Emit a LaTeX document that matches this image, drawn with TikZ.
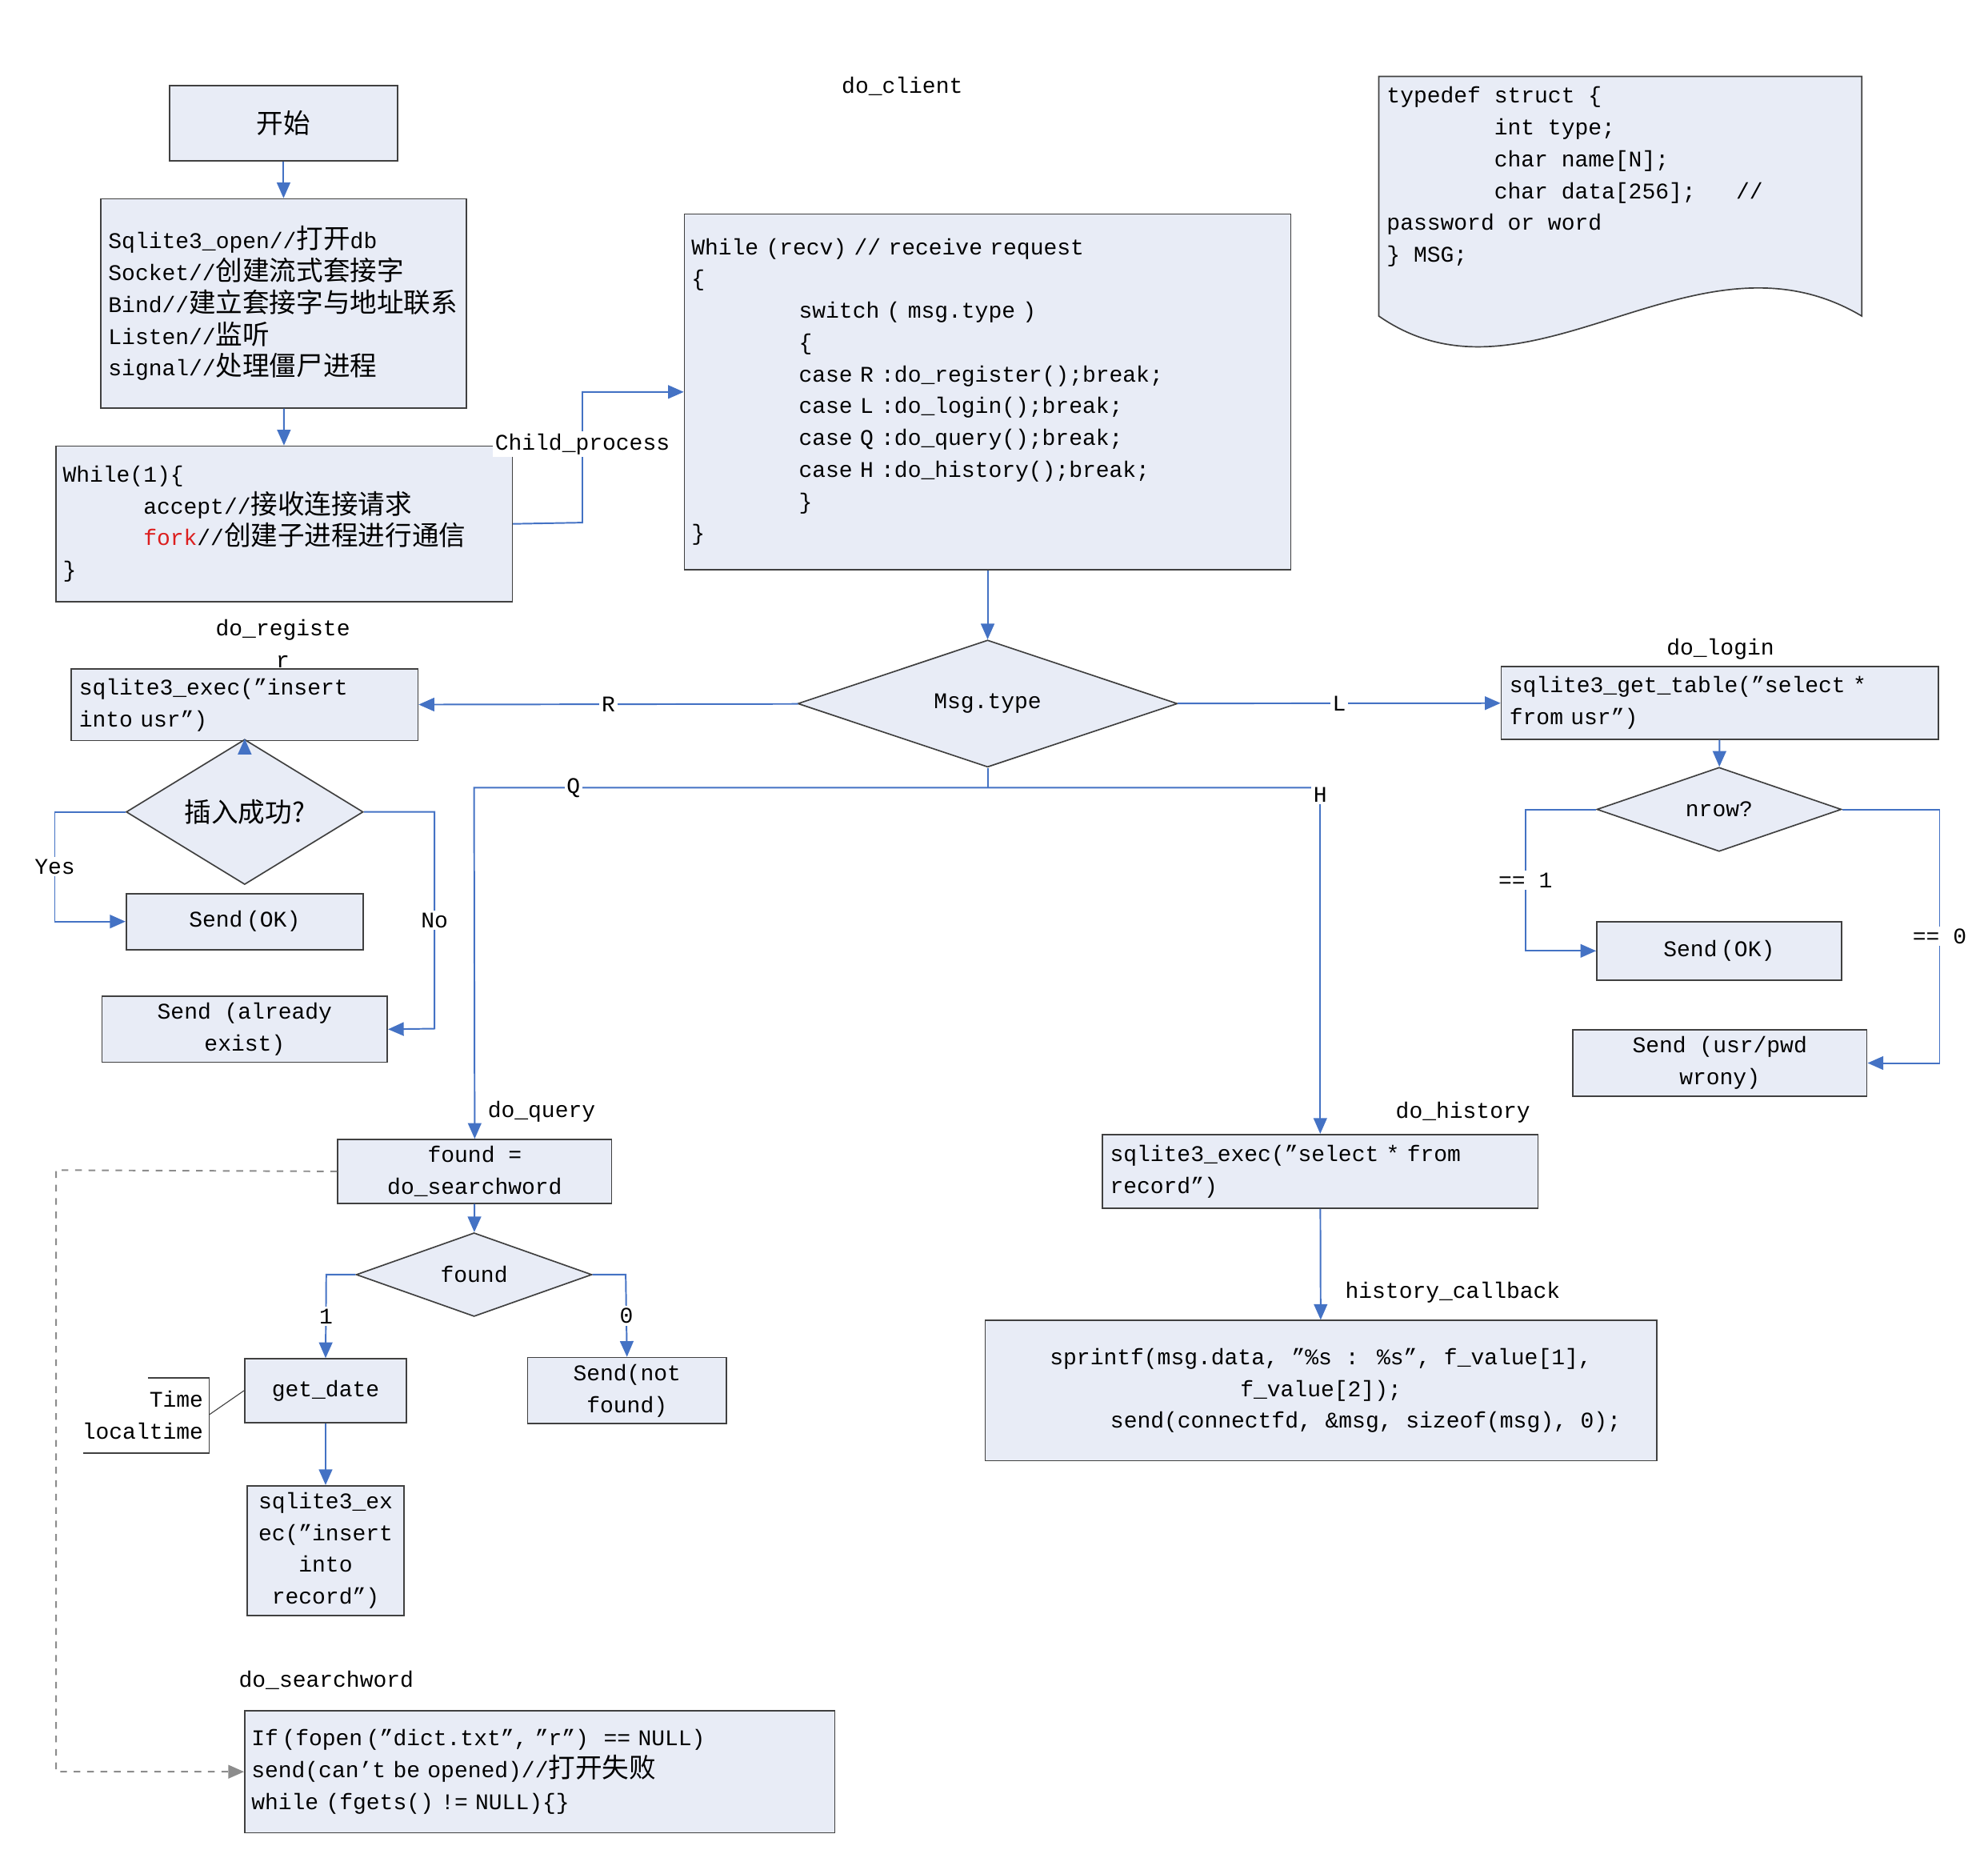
\documentclass[tikz,border=0pt]{standalone}
\usepackage{fontspec}
\setmainfont{Liberation Mono}
\newfontfamily\cjk[Scale=1.2]{Noto Sans CJK SC}
\usepackage{xcolor}
\usetikzlibrary{shapes.geometric,arrows.meta}
\definecolor{boxfill}{RGB}{232,236,246}
\definecolor{linec}{RGB}{68,114,196}
\definecolor{forkred}{RGB}{220,30,30}

\begin{document}
\begin{tikzpicture}[x=0.02cm,y=-0.02cm,
every node/.style={font=\fontsize{10}{14.2}\selectfont},
box/.style={rectangle,draw=black!75,fill=boxfill,inner sep=3pt,line width=0.6pt},
lbox/.style={box,align=left,anchor=center},
cbox/.style={box,align=center},
dbox/.style={diamond,draw=black!75,fill=boxfill,inner sep=0pt,line width=0.6pt},
conn/.style={draw=linec,line width=0.7pt},
arr/.style={conn,-{Triangle[length=7pt,width=6pt]}},
lab/.style={fill=white,inner sep=1pt}]
	\useasboundingbox (0,0) rectangle (1560,1470);
	%title
	\node at (708,68) (title) {do\_client};
	%main column
	\node[cbox,minimum width=3.58cm,minimum height=1.18cm] at (222.5,96.5) (start) {\cjk 开始};
	\node[lbox,minimum width=5.74cm,minimum height=3.28cm,text width=5.5cm] at (222.5,238) (init) {Sqlite3\_open//{\cjk 打开}db\\Socket//{\cjk 创建流式套接字}\\Bind//{\cjk 建立套接字与地址联系}\\Listen//{\cjk 监听}\\signal//{\cjk 处理僵尸进程}};
	\node[lbox,minimum width=7.16cm,minimum height=2.44cm,text width=6.95cm] at (223,411) (loop) {While(1)\{\\\hspace*{36pt}accept//{\cjk 接收连接请求}\\\hspace*{36pt}\textcolor{forkred}{fork}//{\cjk 创建子进程进行通信}\\\}};
	\node[lbox,minimum width=9.52cm,minimum height=5.58cm,text width=9.3cm] at (775,307.5) (client) {While (recv) // receive request\\\{\\\hspace*{48pt}switch ( msg.type )\\\hspace*{48pt}\{\\\hspace*{48pt}case R :do\_register();break;\\\hspace*{48pt}case L :do\_login();break;\\\hspace*{48pt}case Q :do\_query();break;\\\hspace*{48pt}case H :do\_history();break;\\\hspace*{48pt}\}\\\}};
	%message struct
	\draw[draw=black!75,fill=boxfill,line width=0.6pt] (1082,60) -- (1461,60) -- (1461,248) .. controls (1330,170) and (1200,330) .. (1082,248) -- cycle;
	\node[anchor=north west,align=left] at (1082,62) (msg) {typedef struct \{\\\hspace*{48pt}int type;\\\hspace*{48pt}char name[N];\\\hspace*{48pt}char data[256];~~ //\\password or word\\\} MSG;};
	\draw[arr] (start) -- (init);
	\draw[arr] (init) -- (loop);
	\draw[arr] (loop.east) -- (457,410) |- node[lab,pos=0.3] {Child\_process} (client.west);
	%dispatcher
	\node[dbox,minimum width=5.96cm,minimum height=1.34cm] at (775,552) (type) {Msg.type};
	\draw[arr] (client) -- (type);
	%register
	\node[align=center] at (222,505) (reglab) {do\_registe\\r};
	\node[lbox,minimum width=5.44cm,minimum height=1.12cm,text width=5.2cm] at (192,553) (reg) {sqlite3\_exec("insert\\into usr")};
	\node[dbox,minimum width=3.72cm,minimum height=1.28cm] at (192,637) (ins) {\cjk 插入成功?};
	\node[cbox,minimum width=3.72cm,minimum height=0.88cm] at (192,723) (regok) {Send\,(OK)};
	\node[cbox,minimum width=4.48cm,minimum height=0.9cm] at (192,807.5) (regex) {Send (already\\exist)};
	\draw[arr] (type) -- node[lab] {R} (reg);
	\draw[arr] (reg) -- (ins);
	\draw[arr] (ins.west) -- (43,637) -- node[lab] {Yes} (43,723) -- (regok.west);
	\draw[arr] (ins.east) -- (341,637) -- node[lab] {No} (341,807) -- (regex.east);
	%login
	\node at (1350,509) (loglab) {do\_login};
	\node[lbox,minimum width=6.86cm,minimum height=1.14cm,text width=6.6cm] at (1349.5,551.5) (login) {sqlite3\_get\_table("select *\\from usr")};
	\node[dbox,minimum width=3.84cm,minimum height=1.32cm] at (1349,635) (nrow) {nrow?};
	\node[cbox,minimum width=3.84cm,minimum height=0.92cm] at (1349,746) (logok) {Send\,(OK)};
	\node[cbox,minimum width=4.62cm,minimum height=0.92cm] at (1349.5,834) (logerr) {Send (usr/pwd\\wrony)};
	\draw[arr] (type) -- node[lab] {L} (login);
	\draw[arr] (login) -- (nrow);
	\draw[arr] (nrow.west) -- (1197,635) -- node[lab] {== 1} (1197,746) -- (logok.west);
	\draw[arr] (nrow.east) -- (1522,635) -- node[lab] {== 0} (1522,834) -- (logerr.east);
	%query
	\node at (425,872) (qlab) {do\_query};
	\node[cbox,minimum width=4.3cm,minimum height=0.88cm] at (372.5,919) (query) {found =\\do\_searchword};
	\node[dbox,minimum width=3.7cm,minimum height=1.04cm] at (372,1000) (found) {found};
	\node[cbox,minimum width=2.54cm,minimum height=1cm] at (255.5,1091) (date) {get\_date};
	\node[cbox,minimum width=3.12cm,minimum height=1.04cm] at (492,1091) (notfound) {Send(not\\found)};
	\node[cbox,minimum width=2.46cm,minimum height=1.86cm] at (255.5,1216.5) (rec) {sqlite3\_ex\\ec("insert\\into\\record")};
	\node[align=right,inner sep=2pt] at (112,1110) (tm) {Time\\localtime};
	\draw[black!75] (116,1081) -- (164,1081) -- (164,1140) -- (65,1140);
	\draw[black!75] (date.west) -- (164,1110);
	\draw[conn] (type.south) -- (775,618);
	\draw[arr] (1036,618) -- (372,618) -- (query.north);
	\node[lab] at (450,618) (qmark) {Q};
	\draw[arr] (query) -- (found);
	\draw[arr] (found.west) -- (256,1000) -- node[lab] {1} (date.north);
	\draw[arr] (found.east) -- (491,1000) -- node[lab] {0} (notfound.north);
	\draw[arr] (date) -- (rec);
	%searchword
	\node at (256,1318) (slab) {do\_searchword};
	\node[lbox,minimum width=9.26cm,minimum height=1.92cm,text width=9.05cm] at (423.5,1390) (search) {If\,(fopen\,("dict.txt", "r")~ == NULL)\\send(can't be opened)//{\cjk 打开失败}\\while (fgets() != NULL)\{\}};
	\draw[arr,draw=black!45,dashed] (query.west) -- (44,918) -- (44,1390) -- (search.west);
	%history
	\node at (1148,873) (hlab) {do\_history};
	\node[lbox,minimum width=6.84cm,minimum height=1.16cm,text width=6.6cm] at (1036,919) (hist) {sqlite3\_exec("select * from\\record")};
	\node at (1140,1014) (cblab) {history\_callback};
	\node[cbox,minimum width=10.54cm,minimum height=2.2cm] at (1036.5,1091) (cb) {sprintf(msg.data, "\%s : \%s", f\_value[1],\\f\_value[2]);\\\hspace*{40pt}send(connectfd, \&msg, sizeof(msg), 0);};
	\draw[arr] (1036,618) -- node[lab,pos=0.02] {H} (hist.north);
	\draw[arr] (hist) -- (cb);
\end{tikzpicture}
\end{document}
